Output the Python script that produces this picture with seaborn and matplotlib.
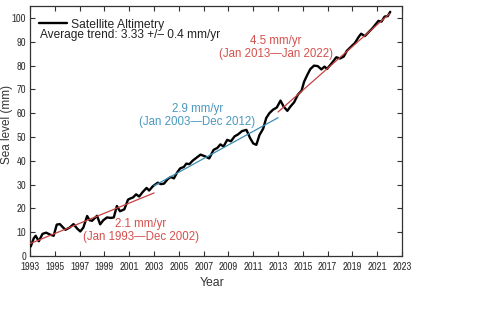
import numpy as np
import pandas as pd
import matplotlib
matplotlib.use("Agg")
import matplotlib.pyplot as plt
import seaborn as sns
from matplotlib import font_manager

# ---------------- data ----------------
years = [1993.05, 1993.3, 1993.45, 1993.7, 1994.0, 1994.3, 1994.6, 1994.9, 1995.15, 1995.4,
         1995.6, 1995.85, 1996.2, 1996.5, 1996.8, 1997.05, 1997.3, 1997.6, 1997.8, 1998.0,
         1998.4, 1998.65, 1998.9, 1999.2, 1999.5, 1999.75, 2000.0, 2000.25, 2000.6, 2000.9,
         2001.1, 2001.3, 2001.55, 2001.8, 2002.1, 2002.4, 2002.6, 2002.9, 2003.3, 2003.55,
         2003.8, 2004.1, 2004.35, 2004.6, 2004.85, 2005.1, 2005.4, 2005.6, 2005.85, 2006.1,
         2006.4, 2006.75, 2007.1, 2007.45, 2007.8, 2008.1, 2008.35, 2008.6, 2008.9, 2009.2,
         2009.5, 2009.75, 2010.1, 2010.45, 2010.75, 2011.0, 2011.25, 2011.5, 2011.8, 2012.05,
         2012.3, 2012.6, 2012.9, 2013.2, 2013.45, 2013.75, 2014.0, 2014.3, 2014.6, 2014.9,
         2015.1, 2015.35, 2015.6, 2015.9, 2016.2, 2016.5, 2016.75, 2016.95, 2017.3, 2017.7,
         2018.0, 2018.3, 2018.55, 2018.9, 2019.2, 2019.5, 2019.7, 2020.0, 2020.3, 2020.6,
         2020.85, 2021.1, 2021.35, 2021.6, 2021.85, 2022.05]
sea_level = [4.0, 7.5, 8.5, 6.2, 9.3, 9.8, 9.0, 8.5, 13.2, 13.4,
             12.3, 11.0, 12.0, 13.4, 11.5, 10.3, 12.0, 16.8, 15.0, 14.8,
             16.9, 13.3, 15.0, 16.2, 16.0, 16.2, 21.0, 18.8, 19.6, 23.7,
             24.2, 24.6, 25.9, 25.0, 27.0, 28.6, 27.5, 29.3, 30.8, 30.2,
             30.4, 32.3, 33.2, 32.6, 35.0, 36.8, 37.4, 38.8, 38.6, 40.0,
             41.2, 42.6, 41.9, 41.0, 44.6, 45.4, 46.9, 46.0, 48.8, 48.2,
             50.3, 51.0, 52.5, 53.0, 49.5, 47.3, 46.7, 50.8, 53.5, 58.0,
             60.0, 61.5, 62.4, 65.3, 62.8, 61.0, 62.8, 64.6, 67.8, 69.5,
             73.2, 76.0, 78.5, 80.0, 79.8, 78.4, 79.6, 78.6, 80.8, 83.5,
             83.0, 83.8, 86.2, 88.0, 89.5, 92.0, 93.4, 92.4, 94.0, 95.6,
             97.2, 98.8, 98.5, 100.6, 100.8, 102.6]

# trend segments (start year, end year, start value, end value)
trend_years = [[1993.0, 2003.0], [2003.0, 2013.0], [2013.0, 2022.0]]
trend_values = [[5.2, 26.5], [29.5, 58.1], [60.5, 101.8]]
trend_labels = ["2.1 mm/yr\n(Jan 1993\u2014Dec 2002)",
                "2.9 mm/yr\n(Jan 2003\u2014Dec 2012)",
                "4.5 mm/yr\n(Jan 2013\u2014Jan 2022)"]
label_x = [2001.95, 2006.5, 2012.8]
label_y = [10.6, 59.0, 87.8]

x_ticks = list(range(1993, 2024, 2))
y_ticks = list(range(0, 101, 10))

# ---------------- style ----------------
sns.set_style("ticks")
available = sorted({f.name for f in font_manager.fontManager.ttflist})
main_font = "Liberation Sans" if "Liberation Sans" in available else "DejaVu Sans"
narrow = [n for n in available if "Narrow" in n or "Condensed" in n]
if "Liberation Sans Narrow" in narrow:
    tick_font = "Liberation Sans Narrow"
elif narrow:
    tick_font = narrow[0]
else:
    tick_font = main_font
tick_size = 7.6 if tick_font != main_font else 6.4
plt.rcParams["font.family"] = [main_font, "DejaVu Sans"]

line_colors = ["#c9403f", "#3b8db5", "#c9403f"]
text_colors = ["#d4504c", "#4a98c0", "#d4504c"]

fig = plt.figure(figsize=(4.78, 3.22), dpi=100)
ax = fig.add_axes([0.063, 0.205, 0.778, 0.776])

df = pd.DataFrame({"Year": years, "Sea level (mm)": sea_level})
sns.lineplot(data=df, x="Year", y="Sea level (mm)", sort=False, color="black",
             linewidth=1.7, ax=ax, label="Satellite Altimetry", zorder=3)

for ty, tv, c in zip(trend_years, trend_values, line_colors):
    sns.lineplot(x=ty, y=tv, color=c, linewidth=0.9, ax=ax, zorder=4, legend=False)

for lx, ly, txt, c in zip(label_x, label_y, trend_labels, text_colors):
    ax.text(lx, ly, txt, color=c, fontsize=8.3, ha="center", va="center",
            linespacing=1.12)

ax.set_xlim(1993, 2023)
ax.set_ylim(0, 105)
ax.set_xticks(x_ticks)
ax.set_yticks(y_ticks)
ax.tick_params(direction="in", top=True, right=True, length=3.5, width=0.8,
               labelsize=tick_size, colors="#333333")
ax.tick_params(axis="x", pad=4)
ax.tick_params(axis="y", pad=3)
for lab in ax.get_xticklabels() + ax.get_yticklabels():
    lab.set_family([tick_font, "DejaVu Sans"])
for s in ax.spines.values():
    s.set_linewidth(0.9)
    s.set_color("#333333")

ax.set_xlabel("Year", fontsize=8.8, color="#333333")
ax.set_ylabel("Sea level (mm)", fontsize=8.5, color="#333333")
ax.xaxis.set_label_coords(0.49, -0.085)
ax.yaxis.set_label_coords(-0.046, 0.525)

leg = ax.legend(loc="upper left", bbox_to_anchor=(0.024, 0.95), frameon=False,
                fontsize=8.7, handlelength=2.3, handletextpad=0.35,
                borderpad=0, borderaxespad=0)
ax.text(0.027, 0.884, "Average trend: 3.33 +/\u2013 0.4 mm/yr", transform=ax.transAxes,
        fontsize=8.6, ha="left", va="center", color="#222222")

fig.savefig("out.png", dpi=100)
